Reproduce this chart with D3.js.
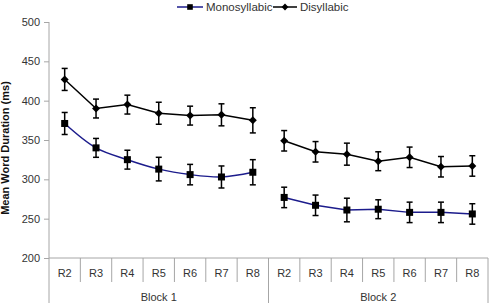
<!DOCTYPE html>
<html><head><meta charset="utf-8">
<script src="https://cdn.jsdelivr.net/npm/d3@7"></script>
<style>body{margin:0;background:#fff}svg{display:block;font-family:"Liberation Sans",Arial,sans-serif}</style>
</head><body><svg id="c" width="490" height="308"></svg>
<script>
const blocks = ["Block 1", "Block 2"];
const rounds = ["R2", "R3", "R4", "R5", "R6", "R7", "R8"];
const yTicks = [200, 250, 300, 350, 400, 450, 500];
const monoB1 = [371, 340, 325, 313, 306, 303, 309];
const monoB1Err = [14, 12, 12, 15, 13, 14, 16];
const monoB2 = [277, 267, 261, 262, 258, 258, 256];
const monoB2Err = [13, 13, 15, 12, 13, 13, 13];
const diB1 = [427, 390, 395, 384, 381, 382, 375];
const diB1Err = [14, 12, 12, 14, 12, 14, 16];
const diB2 = [349, 335, 332, 323, 328, 316, 317];
const diB2Err = [13, 13, 14, 12, 13, 13, 13];

const svg = d3.select("#c");
const keys = [];
blocks.forEach((b, bi) => rounds.forEach(r => keys.push(bi + "-" + r)));
const x = d3.scaleBand().domain(keys).range([49, 488]).padding(0);
const y = d3.scaleLinear().domain([200, 500]).range([258, 22]);
const axisColor = "#a6a6a6";
const textColor = "#333";

// y axis
const ya = svg.append("g").attr("transform", "translate(49,0)")
  .call(d3.axisLeft(y).tickValues(yTicks).tickSize(5).tickPadding(4));
ya.select(".domain").remove();
ya.selectAll("line").attr("stroke", axisColor);
ya.selectAll("text").attr("font-size", 11).attr("fill", textColor).attr("font-family", "Liberation Sans, Arial");
svg.append("line").attr("x1", 49).attr("x2", 49).attr("y1", y(500)).attr("y2", 303).attr("stroke", axisColor);
svg.append("line").attr("x1", 49).attr("x2", 488).attr("y1", y(200)).attr("y2", y(200)).attr("stroke", axisColor);

// x axis labels
const xa = svg.append("g").attr("transform", `translate(0,${y(200)})`)
  .call(d3.axisBottom(x).tickSize(0).tickPadding(11).tickFormat(d => d.split("-")[1]));
xa.select(".domain").remove();
xa.selectAll("text").attr("font-size", 11).attr("fill", textColor).attr("font-family", "Liberation Sans, Arial");
// separators
keys.forEach((k, i) => {
  if (i === 0) return;
  const xx = x(k);
  const isBlock = i % rounds.length === 0;
  svg.append("line").attr("x1", xx).attr("x2", xx).attr("y1", y(200))
    .attr("y2", isBlock ? 303 : 282).attr("stroke", axisColor);
});
svg.append("line").attr("x1", x.range()[1]).attr("x2", x.range()[1]).attr("y1", y(200)).attr("y2", 303).attr("stroke", axisColor);
// block labels
blocks.forEach((b, bi) => {
  const first = x(bi + "-" + rounds[0]);
  const last = x(bi + "-" + rounds[rounds.length - 1]) + x.bandwidth();
  svg.append("text").attr("x", (first + last) / 2).attr("y", 301).attr("text-anchor", "middle")
    .attr("font-size", 11).attr("fill", textColor).text(b);
});

// y title
svg.append("text").attr("transform", `translate(9,${(y(500)+y(200))/2 + 8}) rotate(-90)`)
  .attr("text-anchor", "middle").attr("font-size", 11).attr("font-weight", "bold").attr("fill", "#111")
  .text("Mean Word Duration (ms)");

const cx = (bi, i) => x(bi + "-" + rounds[i]) + x.bandwidth() / 2;

function series(vals, errs, bi, color, marker, curve) {
  const pts = vals.map((v, i) => [cx(bi, i), y(v), v, errs[i]]);
  svg.append("path").attr("d", d3.line().curve(curve)(pts.map(p => [p[0], p[1]])))
    .attr("fill", "none").attr("stroke", color).attr("stroke-width", 1.5);
  pts.forEach(p => {
    const g = svg.append("g").attr("stroke", "#000").attr("stroke-width", 1.5);
    g.append("line").attr("x1", p[0]).attr("x2", p[0]).attr("y1", y(p[2] + p[3])).attr("y2", y(p[2] - p[3]));
    g.append("line").attr("x1", p[0] - 3).attr("x2", p[0] + 3).attr("y1", y(p[2] + p[3])).attr("y2", y(p[2] + p[3]));
    g.append("line").attr("x1", p[0] - 3).attr("x2", p[0] + 3).attr("y1", y(p[2] - p[3])).attr("y2", y(p[2] - p[3]));
  });
  pts.forEach(p => drawMarker(marker, p[0], p[1], 1));
}
function drawMarker(type, px, py, s) {
  if (type === "square") {
    svg.append("rect").attr("x", px - 3.5 * s).attr("y", py - 3.5 * s).attr("width", 7 * s).attr("height", 7 * s).attr("fill", "#000");
  } else {
    const r = 4 * s;
    svg.append("path").attr("d", `M${px},${py - r}L${px + r},${py}L${px},${py + r}L${px - r},${py}Z`).attr("fill", "#000");
  }
}

series(diB1, diB1Err, 0, "#000", "diamond", d3.curveLinear);
series(diB2, diB2Err, 1, "#000", "diamond", d3.curveLinear);
series(monoB1, monoB1Err, 0, "#1c1c8c", "square", d3.curveCatmullRom.alpha(0.5));
series(monoB2, monoB2Err, 1, "#1c1c8c", "square", d3.curveLinear);

// legend
const ly = 7;
svg.append("line").attr("x1", 177).attr("x2", 203).attr("y1", ly).attr("y2", ly).attr("stroke", "#1c1c8c").attr("stroke-width", 1.5);
drawMarker("square", 190, ly, 0.8);
svg.append("text").attr("x", 206).attr("y", ly + 4).attr("font-size", 11.5).attr("fill", textColor).text("Monosyllabic");
svg.append("line").attr("x1", 273).attr("x2", 297).attr("y1", ly).attr("y2", ly).attr("stroke", "#000").attr("stroke-width", 1.5);
drawMarker("diamond", 285, ly, 0.85);
svg.append("text").attr("x", 300).attr("y", ly + 4).attr("font-size", 11.5).attr("fill", textColor).text("Disyllabic");
</script></body></html>
